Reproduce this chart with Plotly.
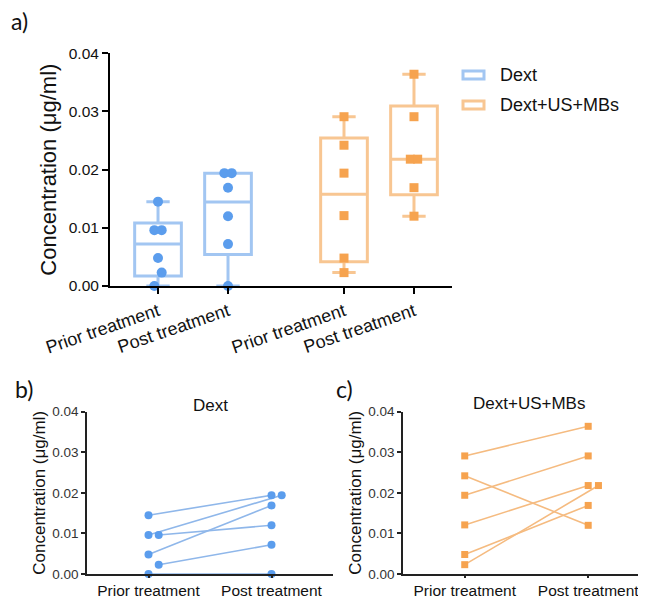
import numpy as np
import plotly.graph_objects as go

# ---------------- data ----------------
groups = ["Dext", "Dext+US+MBs"]
time_labels = ["Prior treatment", "Post treatment"]
y_ticks = [0.0, 0.01, 0.02, 0.03, 0.04]

# paired subject values (same order = same subject)
dext_prior = [0.0145, 0.0096, 0.0096, 0.0048, 0.0023, 0.0]
dext_post = [0.0194, 0.0194, 0.0120, 0.0169, 0.0072, 0.0]
dus_prior = [0.0291, 0.0242, 0.0194, 0.0121, 0.0048, 0.0023]
dus_post = [0.0364, 0.0120, 0.0291, 0.0218, 0.0169, 0.0218]

# ---------------- styles ----------------
BLUE_M = "#5b9ded"
BLUE_L = "#a2c6f2"
BLUE_LINE = "#8fb7ea"
ORANGE_M = "#f6a34f"
ORANGE_L = "#f8c692"
ORANGE_LINE = "#f5bb80"
FONT = "Arial"
OFF = 8                    # page body margin
W, H = 646 - OFF, 599 - OFF


def swarm(vals, step, symmetric, thr=0.0024):
    vals = np.asarray(vals, float)
    order = np.argsort(vals, kind="stable")
    clusters = []
    prev = None
    for i in order:
        if prev is not None and vals[i] - prev < thr:
            clusters[-1].append(i)
        else:
            clusters.append([i])
        prev = vals[i]
    off = np.zeros(len(vals))
    for c in clusters:
        k = len(c)
        for j, i in enumerate(c):
            off[i] = (j - (k - 1) / 2) * step if symmetric else j * step
    return off


def quart(v):
    v = np.asarray(v, float)
    q1, med, q3 = np.percentile(v, [25, 50, 75], method="weibull")
    return q1, med, q3, v.min(), v.max()


def fx(p):
    return (p - OFF) / W


def fy(p):
    return 1 - (p - OFF) / H


def px_x(a, b):
    return [fx(a), fx(b)]


def px_y(top, bottom):
    return [fy(bottom), fy(top)]


fig = go.Figure()

# ---------------- panel a: box plots ----------------
pos_a = [1.0, 2.0, 3.657, 4.657]
sets_a = [dext_prior, dext_post, dus_prior, dus_post]
legend_items = []
for g, (name, lc, mc, sym) in enumerate([
        (groups[0], BLUE_L, BLUE_M, "circle"),
        (groups[1], ORANGE_L, ORANGE_M, "square")]):
    idx = [2 * g, 2 * g + 1]
    stats = [quart(sets_a[i]) for i in idx]
    fig.add_trace(go.Box(
        x=[pos_a[i] for i in idx],
        q1=[s[0] for s in stats], median=[s[1] for s in stats],
        q3=[s[2] for s in stats], lowerfence=[s[3] for s in stats],
        upperfence=[s[4] for s in stats],
        width=0.667, whiskerwidth=0.5, boxpoints=False,
        line=dict(color=lc, width=3), fillcolor="rgba(255,255,255,0)",
        name=name, showlegend=False, xaxis="x", yaxis="y", hoverinfo="skip"))
    legend_items.append((name, lc))
    for i in idx:
        off = swarm(sets_a[i], 0.105, True)
        fig.add_trace(go.Scatter(
            x=pos_a[i] + off, y=sets_a[i], mode="markers",
            marker=dict(color=mc, size=10 if sym == "circle" else 9, symbol=sym),
            showlegend=False, cliponaxis=False, xaxis="x", yaxis="y"))

# legend drawn as outlined boxes + labels
for k, (name, lc) in enumerate(legend_items):
    yc = 75 + 30 * k
    fig.add_shape(type="rect", xref="paper", yref="paper",
                  x0=fx(463), x1=fx(484), y0=fy(yc + 4), y1=fy(yc - 4),
                  line=dict(color=lc, width=3), fillcolor="white")
    fig.add_annotation(xref="paper", yref="paper", x=fx(498), y=fy(yc),
                       xanchor="left", yanchor="middle", text=name,
                       showarrow=False, font=dict(size=18, family=FONT, color="#111"))

# ---------------- panels b & c: before-after ----------------
for prior, post, lcol, mcol, sym, xa, ya in [
        (dext_prior, dext_post, BLUE_LINE, BLUE_M, "circle", "x2", "y2"),
        (dus_prior, dus_post, ORANGE_LINE, ORANGE_M, "square", "x3", "y3")]:
    op = swarm(prior, 0.083, False)
    oq = swarm(post, 0.083, False)
    for k in range(len(prior)):
        fig.add_trace(go.Scatter(
            x=[0 + op[k], 1 + oq[k]], y=[prior[k], post[k]], mode="lines",
            line=dict(color=lcol, width=1.6), showlegend=False,
            cliponaxis=False, xaxis=xa, yaxis=ya))
    fig.add_trace(go.Scatter(
        x=np.concatenate([0 + op, 1 + oq]), y=list(prior) + list(post),
        mode="markers",
        marker=dict(color=mcol, size=8 if sym == "circle" else 7, symbol=sym),
        showlegend=False, cliponaxis=False, xaxis=xa, yaxis=ya))


common = dict(showgrid=False, zeroline=False, automargin=False, showline=True)
ytitle = "Concentration (μg/ml)"
fig.update_layout(
    template="none",
    width=W, height=H, margin=dict(l=0, r=0, t=0, b=0, autoexpand=False),
    paper_bgcolor="white", plot_bgcolor="white",
    font=dict(family=FONT, color="#111"),
    showlegend=False,
    xaxis=dict(domain=px_x(110, 452), range=[0.314, 5.2],
               tickvals=pos_a, ticktext=time_labels * 2, tickangle=-19,
               ticks="outside", ticklen=6, tickwidth=2, tickcolor="black",
               linecolor="black", linewidth=2,
               tickfont=dict(size=18, family=FONT), anchor="y", **common),
    yaxis=dict(domain=px_y(53.3, 286), range=[0, 0.04],
               tickvals=y_ticks, tickformat=".2f",
               ticks="outside", ticklen=6, tickwidth=2, tickcolor="black",
               linecolor="black", linewidth=2,
               tickfont=dict(size=15.5, family=FONT),
               title=dict(text=ytitle, font=dict(size=22, family=FONT), standoff=6),
               anchor="x", **common),
    xaxis2=dict(domain=px_x(87, 333), range=[-0.5, 1.5],
                tickvals=[0, 1], ticktext=time_labels,
                ticks="outside", ticklen=2, tickwidth=1.5, tickcolor="#222",
                linecolor="#222", linewidth=1.5,
                tickfont=dict(size=15.5, family=FONT), anchor="y2", **common),
    yaxis2=dict(domain=px_y(411.7, 574), range=[0, 0.04],
                tickvals=y_ticks, tickformat=".2f",
                ticks="outside", ticklen=4, tickwidth=1.5, tickcolor="#222",
                linecolor="#222", linewidth=1.5,
                tickfont=dict(size=13.5, family=FONT, color="#333"),
                title=dict(text=ytitle, font=dict(size=17, family=FONT), standoff=2),
                anchor="x2", **common),
    xaxis3=dict(domain=px_x(403, 645), range=[-0.5, 1.46],
                tickvals=[0, 1], ticktext=time_labels,
                ticks="outside", ticklen=2, tickwidth=1.5, tickcolor="#222",
                linecolor="#222", linewidth=1.5,
                tickfont=dict(size=15.5, family=FONT), anchor="y3", **common),
    yaxis3=dict(domain=px_y(411.7, 574), range=[0, 0.04],
                tickvals=y_ticks, tickformat=".2f",
                ticks="outside", ticklen=4, tickwidth=1.5, tickcolor="#222",
                linecolor="#222", linewidth=1.5,
                tickfont=dict(size=13.5, family=FONT, color="#333"),
                title=dict(text=ytitle, font=dict(size=17, family=FONT), standoff=2),
                anchor="x3", **common),
)

annots = [
    dict(text="a)", x=fx(9), y=fy(5)),
    dict(text="b)", x=fx(13), y=fy(373)),
    dict(text="c)", x=fx(334), y=fy(373)),
]
for a in annots:
    fig.add_annotation(xref="paper", yref="paper", xanchor="left", yanchor="top",
                       showarrow=False, font=dict(size=23, family="Lato, sans-serif"),
                       **a)
fig.add_annotation(xref="x2 domain", yref="paper", x=0.5, y=fy(405),
                   text=groups[0], showarrow=False, yanchor="middle",
                   font=dict(size=17, family=FONT))
fig.add_annotation(xref="x3 domain", yref="paper", x=0.52, y=fy(403),
                   text=groups[1], showarrow=False, yanchor="middle",
                   font=dict(size=17, family=FONT))

fig.write_html("out.html")
